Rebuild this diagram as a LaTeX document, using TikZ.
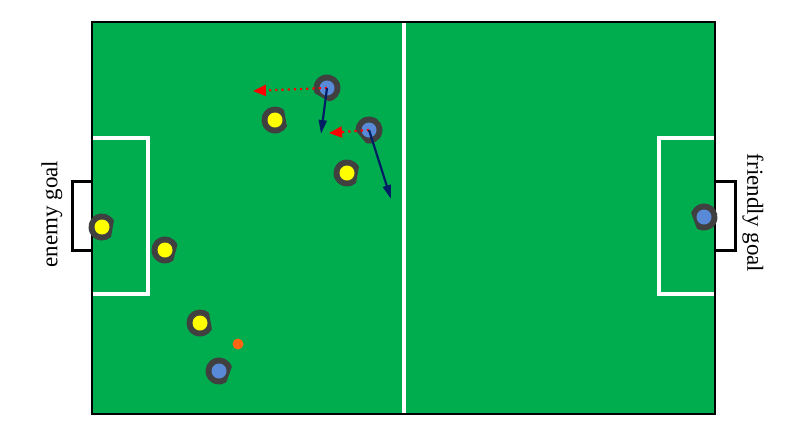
\documentclass[tikz,border=0pt]{standalone}
\usepackage{fontspec}
\setmainfont{Liberation Serif}
\usetikzlibrary{arrows.meta}
\usetikzlibrary{positioning}

\definecolor{fieldgreen}{RGB}{0,173,78}
\definecolor{robotgray}{RGB}{64,64,64}
\definecolor{teamblue}{RGB}{88,138,216}
\definecolor{teamyellow}{RGB}{255,255,0}
\definecolor{ballorange}{RGB}{255,102,17}
\definecolor{movenavy}{RGB}{0,30,100}

% robot: name, position, colour, direction of the flat side
\newcommand{\robot}[4]{%
  \fill[robotgray] (#2) ++({#4+38}:13.5) arc[start angle={#4+38}, end angle={#4+322}, radius=13.5] -- cycle;
  \node[circle, fill=#3, minimum size=7.5pt, inner sep=0pt] (#1) at (#2) {};
}

\begin{document}
\begin{tikzpicture}[x=0.5pt, y=0.5pt,
    line/.style={white, line width=2pt},
    move/.style={movenavy, line width=1.1pt, -{Triangle[length=7pt, width=4pt]}},
    pass/.style={red, line width=1.1pt, dotted, -{Triangle[length=6.5pt, width=5.5pt]}},
    label/.style={font=\fontsize{11.5}{13}\selectfont}]
            \useasboundingbox (0,0) rectangle (802,-436);

            % Field
            \fill[fieldgreen] (92,-22) rectangle (715,-414);
            \draw[line] (404,-22) -- (404,-414);
            \draw[line] (92,-138) -| (148,-294) -- (92,-294);
            \draw[line] (715,-138) -| (659,-294) -- (715,-294);
            \draw[black, line width=0.8pt] (92,-22) rectangle (715,-414);

            % Goals
            \draw[black, line width=1.5pt] (92,-181) -| (72,-250) -- (92,-250);
            \draw[black, line width=1.5pt] (715,-181) -| (735,-250) -- (715,-250);
            \node[label, rotate=90] (enemy) at (52,-214) {enemy goal};
            \node[label, rotate=-90] (friendly) at (753,-213) {friendly goal};

            % Opponents
            \robot{y1}{275,-120}{teamyellow}{10}
            \robot{y2}{347,-173}{teamyellow}{-10}
            \robot{y3}{102,-227}{teamyellow}{-10}
            \robot{y4}{165,-250}{teamyellow}{-15}
            \robot{y5}{200,-323}{teamyellow}{10}

            % Own robots
            \robot{b1}{327,-88}{teamblue}{-120}
            \robot{b2}{369,-130}{teamblue}{-140}
            \robot{b3}{219,-371}{teamblue}{-20}
            \robot{b4}{704,-217}{teamblue}{-160}

            % Ball
            \node[circle, fill=ballorange, minimum size=5.5pt, inner sep=0pt] (ball) at (238,-344) {};

            % Moves
            \coordinate (t1) at (253,-91);
            \coordinate (t2) at (329,-133);
            \coordinate (m1) at (321,-134);
            \coordinate (m2) at (391,-199);
            \draw[pass] (b1.center) -- (t1);
            \draw[pass] (b2.center) -- (t2);
            \draw[move] (b1.center) -- (m1);
            \draw[move] (b2.center) -- (m2);
        \end{tikzpicture}
\end{document}
